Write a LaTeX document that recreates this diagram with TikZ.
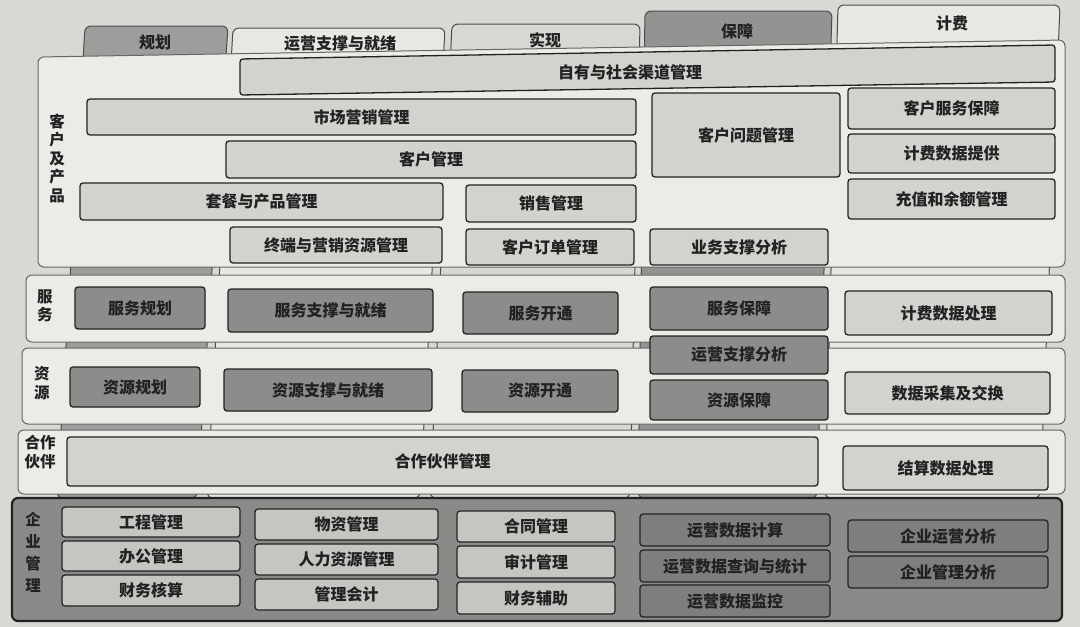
\documentclass[tikz,border=0pt]{standalone}
\usepackage{fontspec}
\setmainfont{Noto Sans CJK SC}
\definecolor{paper}{HTML}{D9D8D5}
\definecolor{panelc}{HTML}{ECEBE7}
\definecolor{boxl}{HTML}{D3D2CE}
\definecolor{boxd}{HTML}{8D8C8A}
\definecolor{tabd}{HTML}{9E9D9B}
\definecolor{tabm}{HTML}{D8D7D3}
\definecolor{tabl}{HTML}{E8E7E3}
\definecolor{entc}{HTML}{8B8A88}
\definecolor{entl}{HTML}{C6C5C2}
\definecolor{entd}{HTML}{7F7E7C}
\definecolor{ink}{HTML}{222222}
\newcommand\mybox[7]{%
  \path[#1] (#3,#4) rectangle (#5,#6);
  \node[txt] (#2) at ({(#3+#5)/2},{(#4+#6)/2}) {#7};}
\begin{document}
\begin{tikzpicture}[x=1pt,y=-1pt,
  txt/.style={font=\fontsize{16}{18}\selectfont\bfseries, text=ink},
  vlab/.style={font=\fontsize{15.5}{18.5}\selectfont\bfseries, text=ink, align=center},
  lbox/.style={draw=ink, line width=1.3pt, fill=boxl, rounded corners=3pt},
  dbox/.style={draw=ink, line width=1.3pt, fill=boxd, rounded corners=3pt},
  elbox/.style={draw=ink, line width=1.2pt, fill=entl, rounded corners=3pt},
  edbox/.style={draw=ink, line width=1.2pt, fill=entd, rounded corners=3pt},
  panel/.style={draw=black!60, line width=1pt, fill=panelc, rounded corners=6pt},
  colbg/.style={draw=black!70, line width=1pt, rounded corners=6pt}]
\fill[paper] (0,0) rectangle (1080,627);
\useasboundingbox (0,0) rectangle (1080,627);
% columns (behind)
\draw[colbg, fill=tabd] (85,26) -- (228,26) -- (197,498) -- (57,498) -- cycle;
\draw[colbg, fill=tabl] (233,28) -- (445,28) -- (420,498) -- (207,498) -- cycle;
\draw[colbg, fill=tabm] (452,24) -- (640,24) -- (630,498) -- (430,498) -- cycle;
\draw[colbg, fill=tabd!110] (645,11) -- (832,11) -- (817,498) -- (638,498) -- cycle;
\draw[colbg, fill=tabl] (838,5) -- (1060,5) -- (1040,498) -- (825,498) -- cycle;
\node[txt] (c1) at (155,42) {规划};
\node[txt] (c2) at (340,44) {运营支撑与就绪};
\node[txt] (c3) at (545,40) {实现};
\node[txt] (c4) at (737,31) {保障};
\node[txt] (c5) at (952,23) {计费};
% row panels
\path[panel] (38,57) -- (1065,40) -- (1065,267) -- (38,267) -- cycle;
\path[panel] (26,275) rectangle (1065,342);
\path[panel] (22,348) rectangle (1065,424);
\path[panel] (18,430) rectangle (1065,494);
\node[vlab] (r1) at (57,158) {客\\户\\及\\产\\品};
\node[vlab] (r2) at (45,306) {服\\务};
\node[vlab] (r3) at (42,383) {资\\源};
\node[vlab] (r4) at (40,452) {合作\\伙伴};
% customer & product
\path[lbox] (240,59) -- (1055,45) -- (1055,82) -- (240,95) -- cycle;
\node[txt] (b1) at (630,72) {自有与社会渠道管理};
\mybox{lbox}{b2}{87}{99}{636}{135}{市场营销管理}
\mybox{lbox}{b3}{226}{141}{636}{178}{客户管理}
\mybox{lbox}{b4}{80}{183}{443}{220}{套餐与产品管理}
\mybox{lbox}{b5}{466}{185}{636}{222}{销售管理}
\mybox{lbox}{b6}{230}{227}{442}{263}{终端与营销资源管理}
\mybox{lbox}{b7}{466}{229}{634}{265}{客户订单管理}
\mybox{lbox}{b8}{652}{93}{840}{177}{客户问题管理}
\mybox{lbox}{b9}{650}{229}{828}{265}{业务支撑分析}
\mybox{lbox}{b10}{848}{88}{1055}{129}{客户服务保障}
\mybox{lbox}{b11}{848}{134}{1055}{173}{计费数据提供}
\mybox{lbox}{b12}{848}{179}{1055}{219}{充值和余额管理}
% service
\mybox{dbox}{s1}{75}{287}{205}{329}{服务规划}
\mybox{dbox}{s2}{228}{289}{433}{332}{服务支撑与就绪}
\mybox{dbox}{s3}{463}{292}{618}{334}{服务开通}
\mybox{dbox}{s4}{650}{287}{828}{330}{服务保障}
\mybox{lbox}{s5}{845}{291}{1052}{335}{计费数据处理}
% resource
\mybox{dbox}{q1}{70}{367}{200}{407}{资源规划}
\mybox{dbox}{q2}{224}{369}{432}{411}{资源支撑与就绪}
\mybox{dbox}{q3}{462}{370}{618}{412}{资源开通}
\mybox{dbox}{q4}{650}{336}{828}{374}{运营支撑分析}
\mybox{dbox}{q5}{650}{380}{828}{420}{资源保障}
\mybox{lbox}{q6}{845}{372}{1050}{414}{数据采集及交换}
% partner
\mybox{lbox}{p1}{67}{437}{818}{486}{合作伙伴管理}
\mybox{lbox}{p2}{843}{446}{1048}{490}{结算数据处理}
% enterprise management
\path[draw=ink, line width=2.2pt, fill=entc, rounded corners=6pt] (12,498) rectangle (1062,621);
\node[vlab, font=\fontsize{15.5}{22}\selectfont\bfseries] (r5) at (33,552) {企\\业\\管\\理};
\mybox{elbox}{e1}{62}{507}{240}{537}{工程管理}
\mybox{elbox}{e2}{62}{541}{240}{571}{办公管理}
\mybox{elbox}{e3}{62}{575}{240}{606}{财务核算}
\mybox{elbox}{e4}{255}{509}{438}{540}{物资管理}
\mybox{elbox}{e5}{255}{544}{438}{575}{人力资源管理}
\mybox{elbox}{e6}{255}{579}{438}{610}{管理会计}
\mybox{elbox}{e7}{457}{511}{615}{542}{合同管理}
\mybox{elbox}{e8}{457}{546}{615}{578}{审计管理}
\mybox{elbox}{e9}{457}{582}{615}{614}{财务辅助}
\mybox{edbox}{e10}{640}{514}{830}{546}{运营数据计算}
\mybox{edbox}{e11}{640}{550}{830}{582}{运营数据查询与统计}
\mybox{edbox}{e12}{640}{585}{830}{617}{运营数据监控}
\mybox{edbox}{e13}{848}{520}{1048}{552}{企业运营分析}
\mybox{edbox}{e14}{848}{556}{1048}{588}{企业管理分析}
\end{tikzpicture}
\end{document}
